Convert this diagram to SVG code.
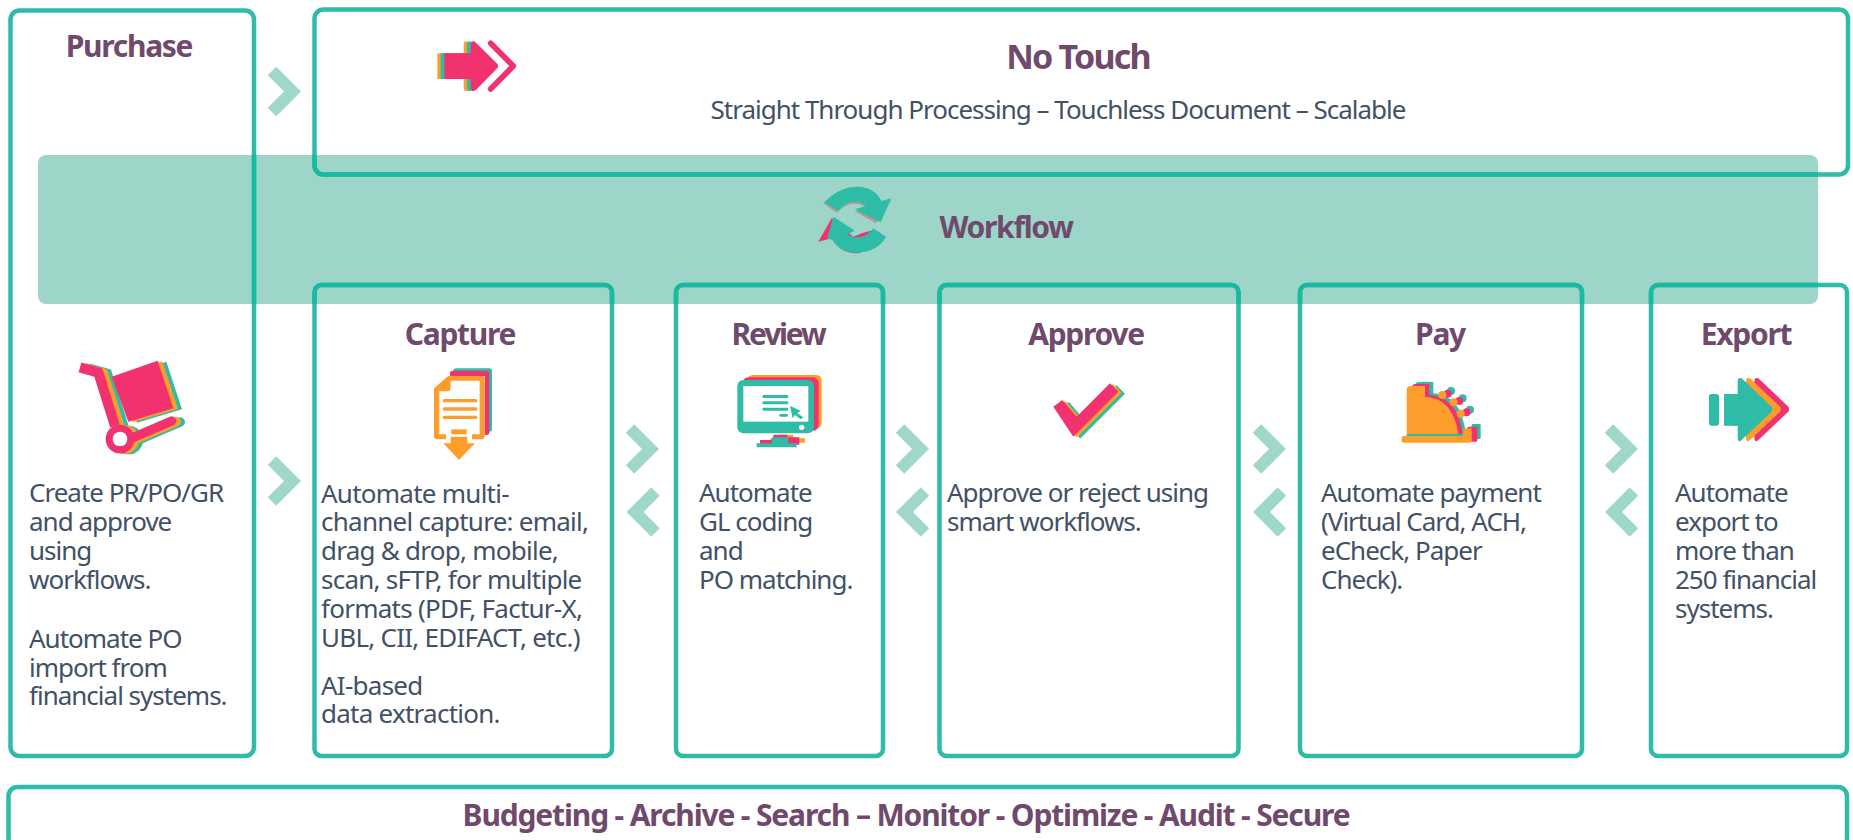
<svg xmlns="http://www.w3.org/2000/svg" width="1853" height="840" viewBox="0 0 1853 840">
<style>
.box{fill:none;stroke:#2fbca6;stroke-width:4.5}
.dark{fill:none;stroke:#17bba1;stroke-width:4.5}
.band{fill:#9dd5c9}
.chev{fill:none;stroke:#9fd8ca;stroke-width:12}
.t{font-family:"Noto Sans",sans-serif;font-weight:700;fill:#6f4a6c;font-size:30px;letter-spacing:-1.3px;text-anchor:middle}
.b{font-family:"Noto Sans",sans-serif;fill:#425166;font-size:26px;letter-spacing:-1px}
.p{fill:#f2316f}.o{fill:#fd9e2c}.g{fill:#2fbca6}.w{fill:#fff}
</style>
<defs>
<clipPath id="bandclip"><rect x="38" y="155" width="1780" height="149" rx="8"/></clipPath>
<path id="chevR" d="M272,-20.5 L292.5,0 L272,20.5" class="chev"/>
<path id="chevL" d="M29,-20.5 L8.5,0 L29,20.5" class="chev"/>
<path id="arrow1" d="M133,100H212V75Q212,60 225,65L293,133Q297,138 293,143L228,210Q212,220 212,200V177H133Z"/>
<path id="arrowE" d="M102,102H143V65Q143,50 155,55L245,140Q250,148 245,155L155,240Q143,250 143,232V197H102Z"/>
<path id="check" d="M70,140L97,120L140,170L240,70L265,95L130,230Z"/>
<g id="cartShape">
<path d="M155,80L293,32L340,175L205,215Z"/>
<path d="M60,52L115,68L165,228" fill="none" stroke="currentColor" stroke-width="30"/>
<path d="M215,265L335,213" fill="none" stroke="currentColor" stroke-width="28" stroke-linecap="round"/>
<circle cx="180" cy="267" r="43"/>
</g>
</defs>
<rect class="band" x="38" y="155" width="1780" height="149" rx="8"/>
<g id="purchase">
<rect class="box" x="10.5" y="10.5" width="243.5" height="745.5" rx="9"/>
<text class="t" x="129" y="57">Purchase</text>
<g transform="translate(60,350) scale(.3333)">
<use href="#cartShape" class="g" color="#2fbca6" x="26" y="3"/>
<use href="#cartShape" class="o" color="#fd9e2c" x="14" y="2"/>
<use href="#cartShape" class="p" color="#f2316f"/>
<circle class="w" cx="180" cy="267" r="22"/>
</g>
<text class="b"><tspan x="29" y="502">Create PR/PO/GR</tspan><tspan x="29" y="531">and approve</tspan><tspan x="29" y="560">using</tspan><tspan x="29" y="589">workflows.</tspan><tspan x="29" y="648">Automate PO</tspan><tspan x="29" y="677">import from</tspan><tspan x="29" y="705">financial systems.</tspan></text>
</g>
<g id="no-touch">
<rect class="box" x="314.5" y="9.5" width="1533.5" height="165" rx="9"/>
<g transform="translate(400,20) scale(.3333)">
<use href="#arrow1" class="o" x="-21"/><use href="#arrow1" class="g" x="-11"/><use href="#arrow1" class="p"/>
<path d="M272,70L340,138L272,207" fill="none" stroke="#f2316f" stroke-width="17" stroke-linecap="round" stroke-linejoin="round"/>
</g>
<text class="t" x="1078" y="69" style="font-size:34px;letter-spacing:-1.8px">No Touch</text>
<text class="b" x="1058" y="119" text-anchor="middle">Straight Through Processing – Touchless Document – Scalable</text>
</g>
<g id="workflow">
<g transform="translate(790,170) scale(.3333)">
<path fill="#b09a9a" d="M100,100Q150,55 205,56Q255,58 274,99L304,91L258,160L195,124L228,114Q215,101 190,101Q165,103 140,128Z"/>
<path fill="#f2316f" d="M125,145L85,215L125,205Q150,250 200,250Q235,250 250,180L215,190L190,200Z"/>
<path class="g" d="M103,97Q150,48 205,50Q255,52 274,93L304,85L272,157L195,118L228,108Q215,95 190,95Q165,97 145,123Z"/>
<path class="g" d="M130,140L195,182L172,193Q190,205 215,200Q235,195 250,175L288,200Q265,245 200,248Q150,248 128,210L112,205Z"/>
</g>
<text class="t" x="1006" y="238">Workflow</text>
</g>
<g id="capture">
<rect class="box" x="314.5" y="285" width="297.5" height="471" rx="7"/>
<text class="t" x="460" y="345">Capture</text>
<g transform="translate(410,350) scale(.3333)">
<rect class="g" x="130" y="55" width="116" height="190" rx="8"/>
<rect class="p" x="120" y="62" width="118" height="193" rx="8"/>
<path class="w" d="M115,78H224V268H72V115Z"/>
<path class="o" d="M115,78H215Q224,78 224,87V258Q224,268 214,268H186V253H209V92H122V115Q122,124 112,124H88V253H108V268H82Q72,268 72,258V115Z"/>
<rect class="o" x="98" y="147" width="104" height="10" rx="5"/><rect class="o" x="98" y="172" width="104" height="10" rx="5"/><rect class="o" x="98" y="197" width="104" height="10" rx="5"/>
<rect class="o" x="124" y="238" width="46" height="15"/>
<path class="o" d="M122,260H172V280H195L147,330L100,280H122Z"/>
</g>
<text class="b" style="letter-spacing:-.75px"><tspan x="321" y="503">Automate multi-</tspan><tspan x="321" y="531">channel capture: email,</tspan><tspan x="321" y="560">drag &amp; drop, mobile,</tspan><tspan x="321" y="589">scan, sFTP, for multiple</tspan><tspan x="321" y="618">formats (PDF, Factur-X,</tspan><tspan x="321" y="647">UBL, CII, EDIFACT, etc.)</tspan><tspan x="321" y="695">AI-based</tspan><tspan x="321" y="723">data extraction.</tspan></text>
</g>
<g id="review">
<rect class="box" x="676" y="285" width="207" height="471" rx="7"/>
<text class="t" x="778" y="345" style="letter-spacing:-2.2px">Review</text>
<g transform="translate(710,360) scale(.3333)">
<rect class="o" x="112" y="45" width="223" height="160" rx="16"/>
<rect class="p" x="98" y="52" width="228" height="160" rx="16"/>
<rect class="g" x="82" y="60" width="230" height="160" rx="18"/>
<rect class="w" x="100" y="78" width="195" height="107"/>
<rect class="g" x="157" y="105" width="78" height="9" rx="4"/><rect class="g" x="157" y="124" width="78" height="9" rx="4"/><rect class="g" x="157" y="143" width="78" height="9" rx="4"/><rect class="g" x="208" y="162" width="26" height="8" rx="4"/>
<path class="g" d="M240,138L272,152L262,160L280,172L272,178L255,165L248,175Z"/>
<circle class="w" cx="275" cy="202" r="8"/>
<path class="o" d="M210,224H250V235H285V248H180V236H210Z"/>
<path class="p" d="M190,224H232V232H268V254H150V240H190Z"/>
<path class="g" d="M185,232H235V250H260V262H140V250H185Z"/>
</g>
<text class="b"><tspan x="699" y="502">Automate</tspan><tspan x="699" y="531">GL coding</tspan><tspan x="699" y="560">and</tspan><tspan x="699" y="589">PO matching.</tspan></text>
</g>
<g id="approve">
<rect class="box" x="939.5" y="285" width="299" height="471" rx="7"/>
<text class="t" x="1086" y="345">Approve</text>
<g transform="translate(1030,360) scale(.3333)">
<use href="#check" class="g" x="20" y="6"/><use href="#check" class="o" x="10" y="3"/><use href="#check" class="p"/>
</g>
<text class="b"><tspan x="947" y="502">Approve or reject using</tspan><tspan x="947" y="531">smart workflows.</tspan></text>
</g>
<g id="pay">
<rect class="box" x="1300" y="285" width="282" height="471" rx="7"/>
<text class="t" x="1440" y="345">Pay</text>
<g transform="translate(1380,360) scale(.3333)">
<path class="g" d="M105,225V78Q105,66 117,66H160V100Q245,105 258,225Z"/>
<circle class="g" cx="213" cy="93" r="12"/><circle class="g" cx="248" cy="115" r="12"/><circle class="g" cx="270" cy="149" r="12"/>
<rect class="g" x="275" y="192" width="27" height="45" rx="4"/>
<path class="p" d="M95,225V84Q95,72 107,72H148V105Q235,110 248,225Z"/>
<circle class="p" cx="203" cy="101" r="12"/><circle class="p" cx="238" cy="123" r="12"/><circle class="p" cx="260" cy="157" r="12"/>
<rect class="p" x="262" y="200" width="30" height="45" rx="4"/>
<path class="o" d="M80,222V90Q80,78 92,78H135V110Q220,115 235,222Z"/>
<circle class="o" cx="187" cy="105" r="12"/><circle class="o" cx="221" cy="127" r="12"/><circle class="o" cx="242" cy="161" r="12"/>
<rect class="g" x="80" y="222" width="170" height="6"/>
<rect class="o" x="250" y="205" width="25" height="30"/>
<rect class="o" x="65" y="228" width="210" height="20" rx="5"/>
</g>
<text class="b"><tspan x="1321" y="502">Automate payment</tspan><tspan x="1321" y="531">(Virtual Card, ACH,</tspan><tspan x="1321" y="560">eCheck, Paper</tspan><tspan x="1321" y="589">Check).</tspan></text>
</g>
<g id="export">
<rect class="box" x="1651" y="285" width="196" height="471" rx="7"/>
<text class="t" x="1746" y="345">Export</text>
<g transform="translate(1690,360) scale(.3333)">
<use href="#arrowE" class="p" x="50"/><use href="#arrowE" class="o" x="25"/>
<use href="#arrowE" class="g"/>
<rect class="g" x="57" y="102" width="30" height="95" rx="8"/>
</g>
<text class="b"><tspan x="1675" y="502">Automate</tspan><tspan x="1675" y="531">export to</tspan><tspan x="1675" y="560">more than</tspan><tspan x="1675" y="589">250 financial</tspan><tspan x="1675" y="618">systems.</tspan></text>
</g>
<g id="footer">
<rect class="box" x="8.5" y="787" width="1838.5" height="60" rx="9"/>
<text class="t" x="906" y="826" style="letter-spacing:-1.15px">Budgeting - Archive - Search – Monitor - Optimize - Audit - Secure</text>
</g>
<g id="overlaps" clip-path="url(#bandclip)">
<rect class="dark" x="10.5" y="10.5" width="243.5" height="745.5" rx="9"/>
<rect class="dark" x="314.5" y="9.5" width="1533.5" height="165" rx="9"/>
<rect class="dark" x="314.5" y="285" width="297.5" height="471" rx="7"/>
<rect class="dark" x="676" y="285" width="207" height="471" rx="7"/>
<rect class="dark" x="939.5" y="285" width="299" height="471" rx="7"/>
<rect class="dark" x="1300" y="285" width="282" height="471" rx="7"/>
<rect class="dark" x="1651" y="285" width="196" height="471" rx="7"/>
</g>
<g id="connectors">
<use href="#chevR" y="91.5"/>
<use href="#chevR" y="481"/>
<use href="#chevR" x="358" y="449"/>
<use href="#chevL" x="626.5" y="512"/>
<use href="#chevR" x="628" y="449"/>
<use href="#chevL" x="896" y="512"/>
<use href="#chevR" x="985" y="449"/>
<use href="#chevL" x="1253" y="512"/>
<use href="#chevR" x="1337" y="449"/>
<use href="#chevL" x="1605" y="512"/>
</g>
</svg>
